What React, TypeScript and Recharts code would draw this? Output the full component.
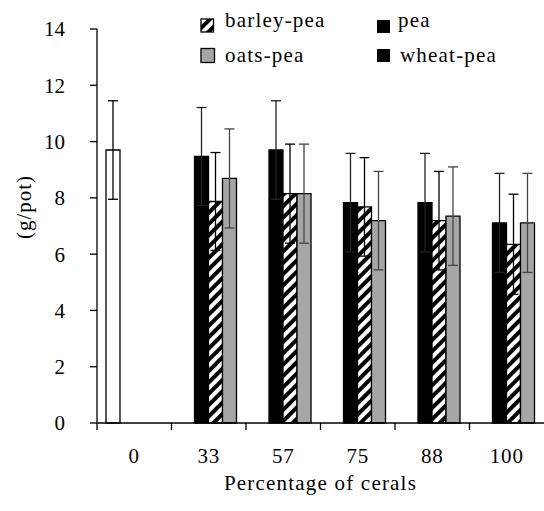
import { BarChart, Bar, XAxis, YAxis, ErrorBar } from 'recharts';

const categories = ['0', '33', '57', '75', '88', '100'];
const pea = [9.7, null, null, null, null, null];
const wheatPea = [null, 9.47, 9.7, 7.83, 7.83, 7.11];
const barleyPea = [null, 7.87, 8.15, 7.68, 7.19, 6.35];
const oatsPea = [null, 8.69, 8.15, 7.19, 7.35, 7.11];
const peaErr = [1.75, null, null, null, null, null];
const wheatErr = [null, 1.74, 1.75, 1.75, 1.75, 1.76];
const barleyErr = [null, 1.74, 1.76, 1.75, 1.75, 1.78];
const oatsErr = [null, 1.76, 1.76, 1.75, 1.75, 1.76];
const yTicks = [0, 2, 4, 6, 8, 10, 12, 14];

const FONT = "'Liberation Serif', 'Times New Roman', 'DejaVu Serif', serif";

const data = categories.map((name, i) => ({
  name,
  pea: pea[i],
  wheatPea: wheatPea[i],
  barleyPea: barleyPea[i],
  oatsPea: oatsPea[i],
  peaErr: peaErr[i],
  wheatErr: wheatErr[i],
  barleyErr: barleyErr[i],
  oatsErr: oatsErr[i],
}));

function XTick(props: any) {
  const { x, payload } = props;
  const half = payload.offset || 37.33;
  const axisY = 423;
  return (
    <g>
      <line x1={x - half} y1={axisY} x2={x - half} y2={axisY + 7} stroke="#000" strokeWidth={1.3} />
      <text
        x={x}
        y={axisY + 40}
        textAnchor="middle"
        style={{ fontFamily: FONT }}
        fontSize={21}
        letterSpacing={0.8}
        fill="#000"
      >
        {payload.value}
      </text>
    </g>
  );
}

function LegendOverlay() {
  const text = { style: { fontFamily: FONT }, fontSize: 21, letterSpacing: 1.2, fill: '#000' };
  return (
    <svg width={544} height={80} style={{ position: 'absolute', left: 0, top: 0, pointerEvents: 'none' }}>
      <defs>
        <pattern id="hatchLegend" patternUnits="userSpaceOnUse" width="8" height="8" patternTransform="rotate(45)">
          <rect width="8" height="8" fill="#fff" />
          <rect width="4" height="8" fill="#000" />
        </pattern>
      </defs>
      <rect x={201} y={19} width={12.5} height={13} fill="url(#hatchLegend)" stroke="#000" strokeWidth={1.3} />
      <text x={225} y={27} {...text}>barley-pea</text>
      <rect x={377} y={20} width={13} height={13} fill="#000" />
      <text x={398} y={27} {...text}>pea</text>
      <rect x={201} y={48.5} width={13.5} height={14} fill="#a6a6a6" stroke="#000" strokeWidth={1.3} />
      <text x={225} y={62} {...text}>oats-pea</text>
      <rect x={377} y={49} width={13} height={13} fill="#000" />
      <text x={400} y={62} {...text}>wheat-pea</text>
    </svg>
  );
}

export default function App() {
  return (
    <div
      style={{
        position: 'absolute',
        left: 0,
        top: 0,
        width: 544,
        height: 511,
        background: '#fff',
        fontFamily: FONT,
      }}
    >
      <BarChart
        width={544}
        height={511}
        data={data}
        margin={{ top: 29, right: 0, left: 0, bottom: 0 }}
        barSize={14}
        barGap={0}
        style={{ fontFamily: FONT }}
      >
        <defs>
          <pattern id="hatch" patternUnits="userSpaceOnUse" width="8" height="8" patternTransform="rotate(45)">
            <rect width="8" height="8" fill="#fff" />
            <rect width="4" height="8" fill="#000" />
          </pattern>
        </defs>
        <XAxis
          dataKey="name"
          height={88}
          axisLine={{ stroke: '#000', strokeWidth: 1.3 }}
          tickLine={false}
          tick={<XTick />}
          interval={0}
          label={{
            value: 'Percentage of cerals',
            position: 'insideBottom',
            offset: 21,
            style: { fontFamily: FONT, fontSize: 21, letterSpacing: 1.2, fill: '#000' },
          }}
        />
        <YAxis
          width={97}
          domain={[0, 14]}
          ticks={yTicks}
          interval={0}
          axisLine={{ stroke: '#000', strokeWidth: 1.3 }}
          tickLine={{ stroke: '#000', strokeWidth: 1.3 }}
          tickSize={7}
          tickMargin={25}
          tick={{ fontSize: 21, fill: '#000', style: { fontFamily: FONT } }}
          label={{
            content: () => (
              <text
                x={24}
                y={207}
                transform="rotate(-90 24 207)"
                textAnchor="middle"
                dominantBaseline="central"
                style={{ fontFamily: FONT }}
                fontSize={21}
                letterSpacing={1}
                fill="#000"
              >
                (g/pot)
              </text>
            ),
          }}
        />
        <Bar dataKey="pea" fill="#fff" stroke="#000" strokeWidth={1.3} isAnimationActive={false}>
          <ErrorBar dataKey="peaErr" width={5} stroke="#000" strokeWidth={1.3} direction="y" isAnimationActive={false} />
        </Bar>
        <Bar dataKey="wheatPea" fill="#000" stroke="#000" strokeWidth={1.3} isAnimationActive={false}>
          <ErrorBar dataKey="wheatErr" width={5} stroke="#222" strokeWidth={1.3} direction="y" isAnimationActive={false} />
        </Bar>
        <Bar dataKey="barleyPea" fill="url(#hatch)" stroke="#000" strokeWidth={1.3} isAnimationActive={false}>
          <ErrorBar dataKey="barleyErr" width={5} stroke="#000" strokeWidth={1.3} direction="y" isAnimationActive={false} />
        </Bar>
        <Bar dataKey="oatsPea" fill="#a6a6a6" stroke="#000" strokeWidth={1.3} isAnimationActive={false}>
          <ErrorBar dataKey="oatsErr" width={5} stroke="#444" strokeWidth={1.3} direction="y" isAnimationActive={false} />
        </Bar>
      </BarChart>
      <LegendOverlay />
    </div>
  );
}
